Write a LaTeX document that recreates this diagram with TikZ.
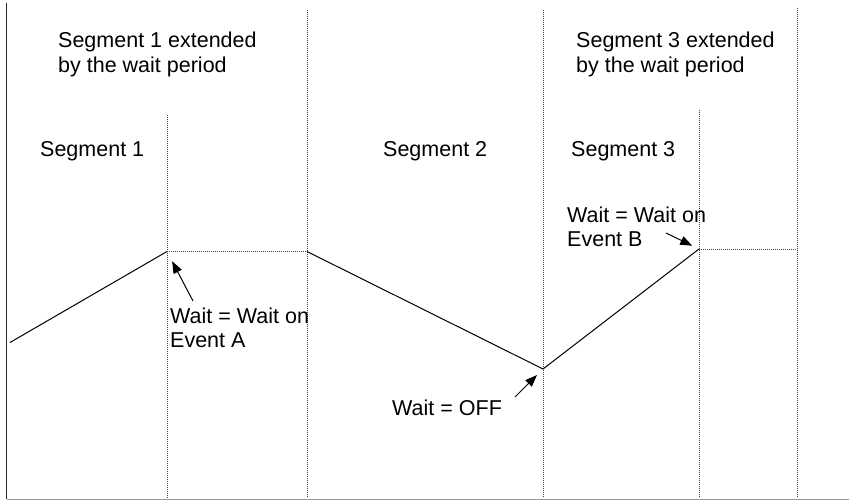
\documentclass[tikz,border=0pt]{standalone}
\usepackage{fontspec}
\setmainfont{Liberation Sans}
\usetikzlibrary{arrows.meta}

\begin{document}
\begin{tikzpicture}[x=1pt,y=-1pt,
 lbl/.style={inner sep=0pt,anchor=base west,align=left,font=\fontsize{21.5}{24.5}\selectfont},
 grid/.style={draw=black!75,line width=0.9pt,dash pattern=on 1pt off 1pt},
 ptr/.style={-{Triangle[length=12pt,width=9pt]},line width=1pt}]
 \useasboundingbox (0,0) rectangle (849,500);
 % axes
 \coordinate (top) at (6.5,3);
 \coordinate (o) at (6.5,499);
 \coordinate (end) at (849,499);
 \draw[line width=1.3pt,black!85] (top)--(o);
 \draw[line width=1pt,black!40] (o)--(end);
 % segment boundaries
 \foreach \x/\y in {167/115,307/10,543/10,699/110,797/8}
  \draw[grid] (\x,\y)--(\x,498);
 % profile
 \coordinate (p0) at (10,342.5);
 \coordinate (p1) at (167,251.5);
 \coordinate (p2) at (307,251.5);
 \coordinate (p3) at (543,369);
 \coordinate (p4) at (699,249);
 \coordinate (p5) at (797,249);
 \draw[line width=1pt] (p0)--(p1);
 \draw[grid] (p1)--(p2);
 \draw[line width=1pt] (p2)--(p3)--(p4);
 \draw[grid] (p4)--(p5);
 % labels (base = last line)
 \node[lbl] (ext1) at (58,72.5) {Segment 1 extended\\by the wait period};
 \node[lbl] (ext3) at (576,72.5) {Segment 3 extended\\by the wait period};
 \node[lbl] (seg1) at (40,157) {Segment 1};
 \node[lbl] (seg2) at (383,157) {Segment 2};
 \node[lbl] (seg3) at (571,157) {Segment 3};
 \node[lbl] (evA) at (170,347.5) {Wait = Wait on\\Event A};
 \node[lbl] (evB) at (567,246.5) {Wait = Wait on\\Event B};
 \node[lbl] (off) at (392,415) {Wait = OFF};
 % pointers
 \coordinate (tA) at (193,301);
 \coordinate (tB) at (666,233);
 \coordinate (tOff) at (515,397);
 \draw[ptr,shorten >=11pt] (tA)--(p1);
 \draw[ptr,shorten >=7.5pt] (tB)--(p4);
 \draw[ptr,shorten >=8.5pt] (tOff)--(p3);
\end{tikzpicture}
\end{document}
